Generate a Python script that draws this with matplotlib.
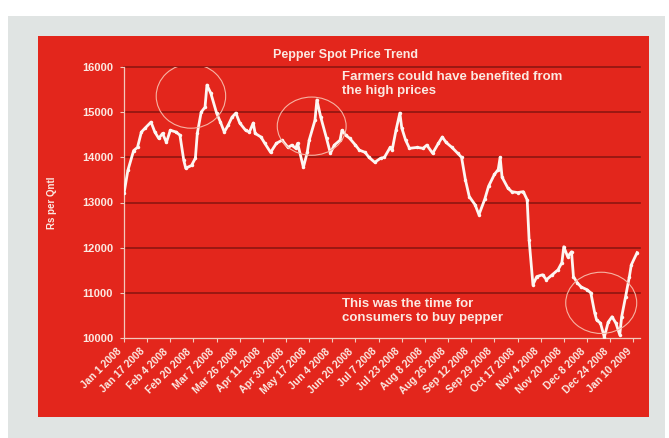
import numpy as np
import matplotlib.pyplot as plt
from matplotlib.patches import Ellipse, Rectangle

plt.rcParams['font.family'] = ['Liberation Sans', 'DejaVu Sans']

# Trading session number (from Jan 1 2008) and spot price in Rs per quintal
session = [0, 2, 5, 7, 9, 11, 14, 16, 18, 20, 22, 24, 27, 29, 31, 32, 35, 37, 38, 40,
           42, 43, 45, 48, 50, 52, 54, 56, 58, 60, 63, 65, 67, 68, 71, 73, 76, 79, 82, 85,
           87, 89, 90, 93, 95, 96, 99, 100, 102, 105, 107, 109, 112, 113, 115, 117, 120, 122, 125, 127,
           130, 133, 135, 138, 139, 141, 143, 144, 146, 148, 152, 155, 157, 160, 163, 165, 167, 170, 173, 175,
           177, 179, 182, 184, 187, 189, 192, 194, 195, 196, 199, 201, 204, 207, 209, 210, 212, 214, 217, 219,
           222, 225, 227, 228, 230, 232, 233, 235, 237, 240, 242, 244, 245, 247, 249, 251, 253, 255, 257, 258,
           260, 262, 263, 266]
price = [13200, 13710, 14150, 14220, 14560, 14650, 14780, 14560, 14420, 14530,
         14330, 14600, 14560, 14490, 13930, 13760, 13820, 13980, 14530, 15000,
         15110, 15600, 15420, 14980, 14780, 14560, 14710, 14890, 14980, 14760,
         14600, 14560, 14760, 14530, 14450, 14310, 14110, 14310, 14380, 14220,
         14270, 14200, 14310, 13780, 14110, 14380, 14820, 15270, 14890, 14420,
         14090, 14270, 14380, 14600, 14490, 14420, 14270, 14160, 14110, 14000,
         13890, 13980, 14000, 14220, 14160, 14600, 14980, 14650, 14380, 14200,
         14220, 14200, 14270, 14090, 14310, 14450, 14330, 14220, 14090, 14000,
         13500, 13130, 12950, 12730, 13070, 13360, 13620, 13730, 14000, 13560,
         13320, 13240, 13220, 13240, 13060, 12180, 11180, 11360, 11400, 11290,
         11400, 11510, 11670, 12020, 11800, 11910, 11360, 11220, 11130, 11070,
         11000, 10560, 10400, 10330, 10020, 10350, 10470, 10330, 10070, 10470,
         10910, 11360, 11620, 11890]

# Category labels, one every 12 sessions
tick_labels = ['Jan 1 2008', 'Jan 17 2008', 'Feb 4 2008', 'Feb 20 2008', 'Mar 7 2008',
               'Mar 26 2008', 'Apr 11 2008', 'Apr 30 2008', 'May 17 2008', 'Jun 4 2008',
               'Jun 20 2008', 'Jul 7 2008', 'Jul 23 2008', 'Aug 8 2008', 'Aug 26 2008',
               'Sep 12 2008', 'Sep 29 2008', 'Oct 17 2008', 'Nov 4 2008', 'Nov 20 2008',
               'Dec 8 2008', 'Dec 24 2008', 'Jan 10 2009']
tick_step = 12
y_ticks = [10000, 11000, 12000, 13000, 14000, 15000, 16000]

W, H = 669, 438
red = '#e3261c'
light = '#fbe9e2'

fig = plt.figure(figsize=(W / 100, H / 100), dpi=100)
fig.patch.set_facecolor('white')

# grey frame and red panel behind the chart
fig.patches.append(Rectangle((8 / W, 0), (665 - 8) / W, (H - 16) / H, transform=fig.transFigure,
                             facecolor='#e0e4e3', edgecolor='none', zorder=-2))
fig.patches.append(Rectangle((38 / W, 1 - 417 / H), (649 - 38) / W, (417 - 36) / H,
                             transform=fig.transFigure, facecolor=red, edgecolor='none', zorder=-1))

ax = fig.add_axes([124 / W, 1 - 338 / H, (640 - 124) / W, (338 - 67) / H])
ax.set_facecolor('none')

# gridlines
for v in y_ticks[1:]:
    ax.axhline(v, color='#8e1610', lw=1.2, zorder=1, clip_on=False)

# the price line, with small beads like the original
ax.plot(session, price, color='#fdf6f2', lw=2, marker='o', ms=2.5, mew=0, zorder=3)

ax.set_xlim(0, 267.5)
ax.set_ylim(10000, 16000)
ax.set_yticks(y_ticks)
ax.set_xticks(np.arange(len(tick_labels)) * tick_step)
ax.set_xticklabels(tick_labels, rotation=45, ha='right', fontsize=7.5,
                   fontweight='bold', color=light)
for lbl in ax.get_yticklabels():
    lbl.set_fontsize(8)
    lbl.set_fontweight('bold')
    lbl.set_color(light)
ax.tick_params(axis='both', colors='#f3c9bc', length=3, width=0.8, labelcolor=light)
ax.tick_params(axis='x', pad=3)
ax.tick_params(axis='y', pad=5)

for side in ['top', 'right']:
    ax.spines[side].set_visible(False)
for side in ['left', 'bottom']:
    ax.spines[side].set_color('#f3c9bc')
    ax.spines[side].set_linewidth(0.9)

# highlight circles
for cx, cy, w, h in [(34.7, 15356, 36, 1422), (97.3, 14690, 35.7, 1289), (247.4, 10778, 36.8, 1356)]:
    ax.add_patch(Ellipse((cx, cy), w, h, fill=False, edgecolor='#f6b3a3', lw=0.8, zorder=4))

# titles and notes (figure pixel positions)
fig.text(345 / W, 1 - 55 / H, 'Pepper Spot Price Trend', ha='center', va='center',
         fontsize=9, fontweight='bold', color=light)
fig.text(52 / W, 1 - 203 / H, 'Rs per Qntl', ha='center', va='center', rotation=90,
         fontsize=7, fontweight='bold', color=light)
fig.text(342 / W, 1 - 84 / H, 'Farmers could have benefited from\nthe high prices',
         ha='left', va='center', fontsize=9.5, fontweight='bold', color=light, linespacing=1.15)
fig.text(342 / W, 1 - 311 / H, 'This was the time for\nconsumers to buy pepper',
         ha='left', va='center', fontsize=9.5, fontweight='bold', color=light, linespacing=1.15)

fig.savefig('out.png', dpi=100)
